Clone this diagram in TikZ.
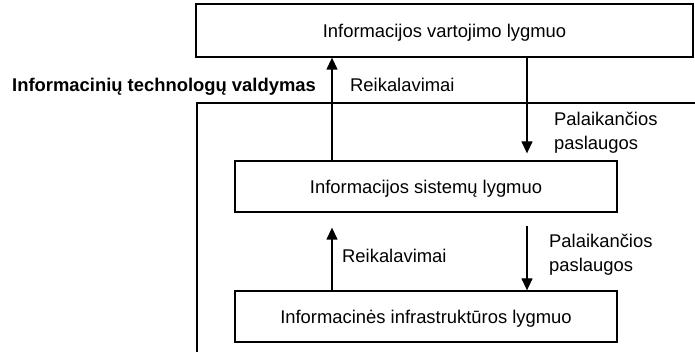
\documentclass[tikz,border=0pt]{standalone}
\usepackage{fontspec}
\setmainfont{Liberation Sans}
\usetikzlibrary{arrows.meta}
\begin{document}
\begin{tikzpicture}[x=1pt,y=-1pt,
  every node/.style={font=\fontsize{18.4}{24}\selectfont},
  lvl/.style={draw, line width=1.3pt, inner sep=0pt, text height=13.2pt, text depth=0pt},
  link/.style={line width=1.3pt, -{Triangle[length=12pt,width=11pt]}},
  frame/.style={line width=1.3pt},
  lbl/.style={inner sep=0pt, anchor=base west},
  note/.style={inner sep=0pt, anchor=north west, align=left}]
\useasboundingbox (0,0) rectangle (695,352);

% management frame (open to the right and below)
\coordinate (frameR) at (695,103);
\coordinate (frameC) at (197,103);
\coordinate (frameB) at (197,352);
\draw[frame] (frameR) -- (frameC) -- (frameB);

% levels
\node[lvl, minimum width=497pt, minimum height=53pt] (use) at (444.5,30.5) {Informacijos vartojimo lygmuo};
\node[lvl, minimum width=382pt, minimum height=51pt] (sys) at (426,186.5) {Informacijos sistemų lygmuo};
\node[lvl, minimum width=382pt, minimum height=51pt] (inf) at (426,316.5) {Informacinės infrastruktūros lygmuo};

% arrow columns
\coordinate (colA) at (332,0);
\coordinate (colB) at (527,0);
\draw[link] (sys.north -| colA) -- (use.south -| colA);
\draw[link, shorten >=7pt] (use.south -| colB) -- (sys.north -| colB);
\draw[link, shorten >=15pt] (inf.north -| colA) -- (sys.south -| colA);
\draw[link, shorten <=13pt] (sys.south -| colB) -- (inf.north -| colB);

% labels
\node[lbl, font=\fontsize{18.4}{24}\selectfont\bfseries] (title) at (12,92) {Informacinių technologų valdymas};
\node[lbl] (req1) at (350,92) {Reikalavimai};
\node[lbl] (req2) at (342,262) {Reikalavimai};
\node[note] (sup1) at (554,111.5) {Palaikančios\\paslaugos};
\node[note] (sup2) at (549,233.5) {Palaikančios\\paslaugos};
\end{tikzpicture}
\end{document}
